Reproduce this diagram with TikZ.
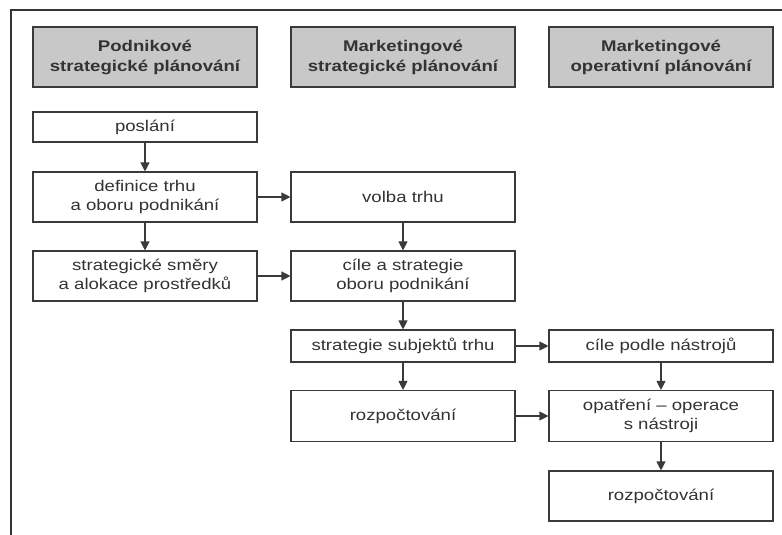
\documentclass[tikz,border=0pt]{standalone}
\usepackage{fontspec}
\setmainfont{Liberation Sans}[FakeStretch=1.2]
\usetikzlibrary{arrows.meta,shadows}
\definecolor{hdrfill}{HTML}{C8C8C8}
\definecolor{edge}{HTML}{3A3A3A}
\begin{document}
\begin{tikzpicture}[x=1pt,y=-1pt,
  box/.style={draw=edge, line width=1.1pt, fill=white, rectangle, minimum width=224pt, inner sep=0pt,
    align=center, font=\fontsize{15.5}{19}\selectfont, text=black!80},
  hdr/.style={box, fill=hdrfill, minimum height=60pt, font=\bfseries\fontsize{15.5}{20}\selectfont,
    drop shadow={shadow xshift=1pt, shadow yshift=-1.5pt, fill=black!45, opacity=0.6}},
  arr/.style={draw=edge, line width=1.1pt, -{Triangle[length=9pt,width=9pt]}},
  frame/.style={draw=black!80, line width=1.2pt}]
\useasboundingbox (0,0) rectangle (782,535);
\coordinate (fa) at (11,535);
\coordinate (fb) at (11,10);
\coordinate (fc) at (782,10);
\draw[frame] (fa) -- (fb) -- (fc);
% headers
\node[hdr] (h1) at (145,57) {Podnikové\\strategické plánování};
\node[hdr] (h2) at (403,57) {Marketingové\\strategické plánování};
\node[hdr] (h3) at (661,57) {Marketingové\\operativní plánování};
% left column
\node[box, minimum height=30pt] (posl) at (145,127) {poslání};
\node[box, minimum height=50pt] (def) at (145,197) {definice trhu\\a oboru podnikání};
\node[box, minimum height=50pt] (smer) at (145,276) {strategické směry\\a alokace prostředků};
% middle column
\node[box, minimum height=50pt] (volba) at (403,197) {volba trhu};
\node[box, minimum height=50pt] (cile) at (403,276) {cíle a strategie\\oboru podnikání};
\node[box, minimum height=32pt] (subj) at (403,346) {strategie subjektů trhu};
\node[box, minimum height=51pt] (rozp1) at (403,416) {rozpočtování};
% right column
\node[box, minimum height=32pt] (cpn) at (661,346) {cíle podle nástrojů};
\node[box, minimum height=51pt] (opat) at (661,416) {opatření – operace\\s nástroji};
\node[box, minimum height=50pt] (rozp2) at (661,496) {rozpočtování};
% arrows
\draw[arr] (posl) -- (def);
\draw[arr] (def) -- (smer);
\draw[arr] (def) -- (volba);
\draw[arr] (smer) -- (cile);
\draw[arr] (volba) -- (cile);
\draw[arr] (cile) -- (subj);
\draw[arr] (subj) -- (rozp1);
\draw[arr] (subj) -- (cpn);
\draw[arr] (rozp1) -- (opat);
\draw[arr] (cpn) -- (opat);
\draw[arr] (opat) -- (rozp2);
\end{tikzpicture}
\end{document}
